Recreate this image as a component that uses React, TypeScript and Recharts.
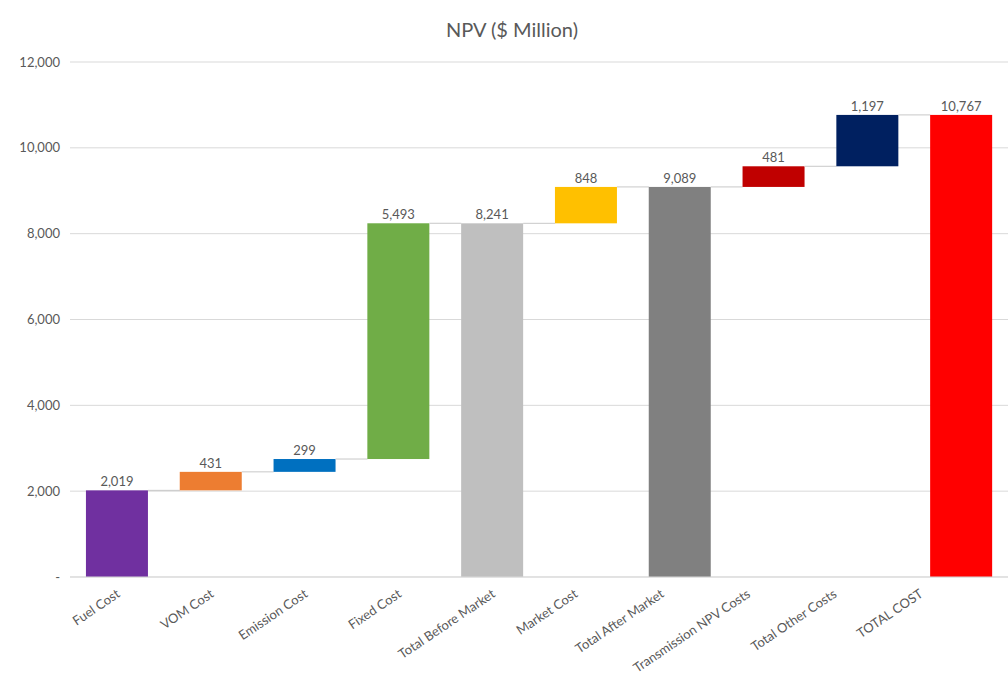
import { Bar, BarChart, CartesianGrid, Cell, LabelList, XAxis, YAxis } from "recharts";

const categories = [
  "Fuel Cost",
  "VOM Cost",
  "Emission Cost",
  "Fixed Cost",
  "Total Before Market",
  "Market Cost",
  "Total After Market",
  "Transmission NPV Costs",
  "Total Other Costs",
  "TOTAL COST",
];
const values = [2019, 431, 299, 5493, 8241, 848, 9089, 481, 1197, 10767];
const isTotal = [false, false, false, false, true, false, true, false, false, true];
const colors = [
  "#7030A0",
  "#ED7D31",
  "#0070C0",
  "#70AD47",
  "#BFBFBF",
  "#FFC000",
  "#808080",
  "#C00000",
  "#002060",
  "#FF0000",
];
const yTicks = [0, 2000, 4000, 6000, 8000, 10000, 12000];

const FONT = "Lato, 'Open Sans', sans-serif";
const TEXT = "#595959";
const GAP = 0.17; // barCategoryGap per side

// waterfall: invisible base + visible step
let running = 0;
const data = categories.map((name, i) => {
  let base = running;
  if (isTotal[i]) {
    base = 0;
    running = values[i];
  } else {
    running += values[i];
  }
  return { name, base, value: values[i] };
});

function StepBar(props: any) {
  const { x, y, width, height, fill, index } = props;
  const gap = (width * 2 * GAP) / (1 - 2 * GAP);
  return (
    <g>
      <rect x={x} y={y} width={width} height={height} fill={fill} />
      {index < categories.length - 1 && (
        <line x1={x + width} x2={x + width + gap} y1={y} y2={y} stroke="#c8c8c8" strokeWidth={1} />
      )}
    </g>
  );
}

function XTick({ x, y, payload, index }: any) {
  // labels on the right half sit a little left of their ticks in the original
  const shift = index >= 5 ? -7.5 * (index - 3.5) : 0;
  return (
    <g transform={`translate(${x + 4 + shift},${y + 11})`}>
      <text
        textAnchor="end"
        transform="rotate(-34)"
        fill={TEXT}
        fontSize={13}
        fontFamily={FONT}
      >
        {payload.value}
      </text>
    </g>
  );
}

export default function App() {
  return (
    <div style={{ position: "relative", width: 1008, height: 681, background: "#fff" }}>
      <style>{"body{margin:0}"}</style>
      <div
        style={{
          position: "absolute",
          top: 17,
          left: 0,
          width: 1024,
          textAlign: "center",
          fontFamily: FONT,
          fontSize: 20,
          color: TEXT,
        }}
      >
        NPV ($ Million)
      </div>
      <BarChart
        width={1008}
        height={681}
        data={data}
        margin={{ top: 62, right: 0, bottom: 0, left: 0 }}
        barCategoryGap={`${GAP * 100}%`}
      >
        <CartesianGrid vertical={false} stroke="#d9d9d9" />
        <XAxis
          dataKey="name"
          interval={0}
          height={104}
          tick={<XTick />}
          tickLine={false}
          axisLine={{ stroke: "#d9d9d9" }}
        />
        <YAxis
          width={70}
          domain={[0, 12000]}
          ticks={yTicks}
          axisLine={false}
          tickLine={false}
          tickMargin={4}
          tick={{ fill: TEXT, fontSize: 13, fontFamily: FONT }}
          tickFormatter={(v: number) => (v === 0 ? "-" : v.toLocaleString("en-US"))}
        />
        <Bar dataKey="base" stackId="w" fill="transparent" isAnimationActive={false} />
        <Bar dataKey="value" stackId="w" shape={<StepBar />} isAnimationActive={false}>
          {data.map((d, i) => (
            <Cell key={d.name} fill={colors[i]} />
          ))}
          <LabelList
            dataKey="value"
            position="top"
            offset={4}
            fill={TEXT}
            fontSize={13}
            fontFamily={FONT}
            formatter={(v: any) => Number(v).toLocaleString("en-US")}
          />
        </Bar>
      </BarChart>
    </div>
  );
}
